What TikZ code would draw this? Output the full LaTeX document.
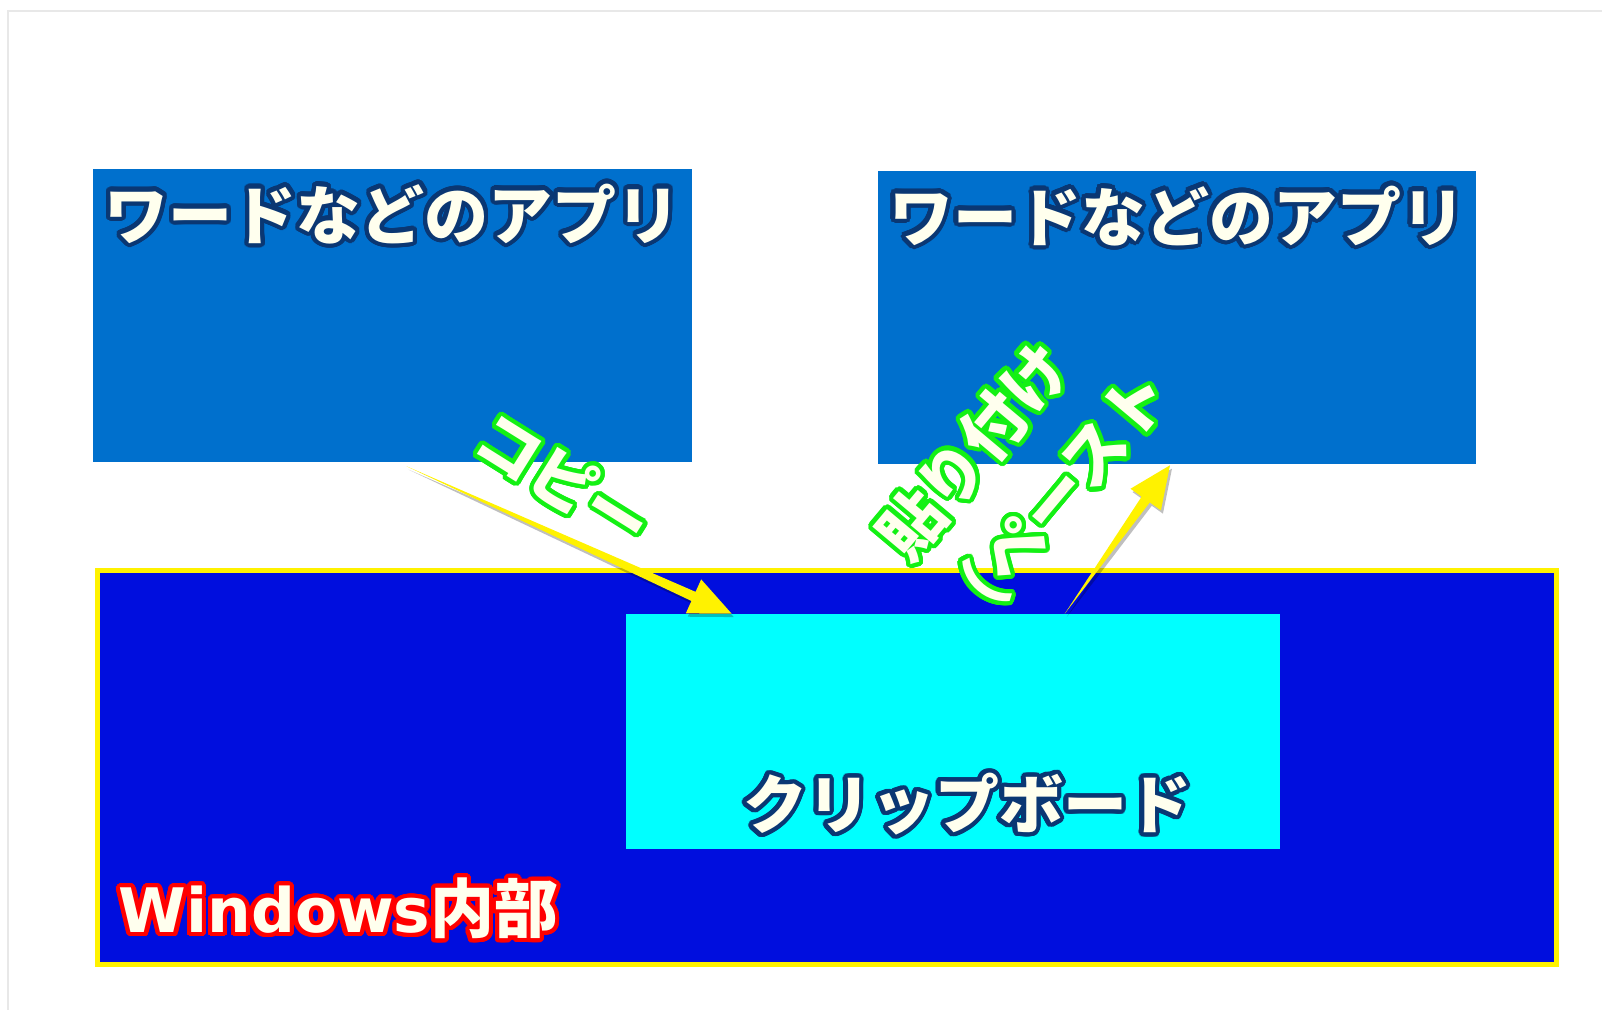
\documentclass[tikz,border=0pt]{standalone}
\usepackage{fontspec}
\newfontfamily\jpfont{Noto Sans CJK JP}
\newfontfamily\latinfont{DejaVu Sans}
\usepackage[copies]{contour}
\contourlength{3.2pt}
\contournumber{32}
\usetikzlibrary{calc,fit}

\definecolor{appblue}{RGB}{0,112,205}
\definecolor{winblue}{RGB}{0,14,222}
\definecolor{clipcyan}{RGB}{0,255,255}
\definecolor{ivory}{RGB}{255,255,238}
\definecolor{navyline}{RGB}{10,55,115}
\definecolor{glowgreen}{RGB}{20,240,20}

\tikzset{
  appbox/.style={fill=appblue, inner sep=0pt},
  winbox/.style={fill=winblue, draw=yellow, line width=3.75pt, inner sep=0pt},
  clipbox/.style={fill=clipcyan, inner sep=0pt},
  bigtext/.style={font=\jpfont\bfseries\fontsize{48}{56}\selectfont, text=ivory, inner sep=0pt},
  flowarrow/.style={fill=yellow},
}
\newcommand{\navytext}[1]{\contour{navyline}{#1}}
% tapered arrow from #1 (tail) to #2 (tip)
\newcommand{\taperarrow}[2]{%
  \coordinate (#1-h) at ($(#2)!31.5pt!(#1)$);
  \fill[black, opacity=0.25, transform canvas={xshift=1.5pt,yshift=-2.5pt}] (#1) -- ($(#1-h)!3.75pt!90:(#2)$) -- ($(#1-h)!14pt!90:(#2)$) -- (#2) -- ($(#1-h)!14pt!-90:(#2)$) -- ($(#1-h)!3.75pt!-90:(#2)$) -- cycle;
  \fill[flowarrow] (#1) -- ($(#1-h)!3.75pt!90:(#2)$) -- ($(#1-h)!14pt!90:(#2)$) -- (#2) -- ($(#1-h)!14pt!-90:(#2)$) -- ($(#1-h)!3.75pt!-90:(#2)$) -- cycle;
}

\begin{document}
\begin{tikzpicture}[x=0.75pt,y=0.75pt,yscale=-1,xscale=1]
\useasboundingbox (0,0) rectangle (1602,1010);
% page edge
\draw[gray!18, line width=1.5pt] (8,1010) -- (8,11) -- (1602,11);

% application boxes
\node[appbox, fit={(93,169) (692,462)}] (wordL) {};
\node[appbox, fit={(878,171) (1476,464)}] (wordR) {};
\node[bigtext] (wordLtxt) at ($(wordL.north)+(0,47)$) {\navytext{ワードなどのアプリ}};
\node[bigtext] (wordRtxt) at ($(wordR.north)+(0,47)$) {\navytext{ワードなどのアプリ}};

% windows inside
\node[winbox, fit={(97,570) (1556,964)}] (win) {};
\node[clipbox, fit={(626,614) (1280,849)}] (clip) {};
\node[bigtext] (cliptxt) at ($(clip.south)+(14,-43)$) {\navytext{クリップボード}};
\node[bigtext, anchor=west] (wintxt) at ($(win.south west)+(24,-56)$) {\contour{red}{{\latinfont\fontsize{46}{56}\selectfont Windows}内部}};

% arrows
\coordinate (copyTail) at ($(wordL.south)+(14,4)$);
\coordinate (copyTip) at ($(clip.north west)+(106,0)$);
\coordinate (pasteTail) at ($(clip.north west)+(439,0)$);
\coordinate (pasteTip) at ($(wordR.south)+(-7,1)$);
\taperarrow{copyTail}{copyTip}
\taperarrow{pasteTail}{pasteTip}

% arrow labels
\node[bigtext, rotate=-32] (copytxt) at (563,482) {\contour{glowgreen}{コピー}};
\node[bigtext, rotate=50] (pastetxtA) at (975,452) {\contour{glowgreen}{貼り付け}};
\node[bigtext, rotate=50] (pastetxtB) at (1055,503) {\contour{glowgreen}{（ペースト}};
\end{tikzpicture}
\end{document}
